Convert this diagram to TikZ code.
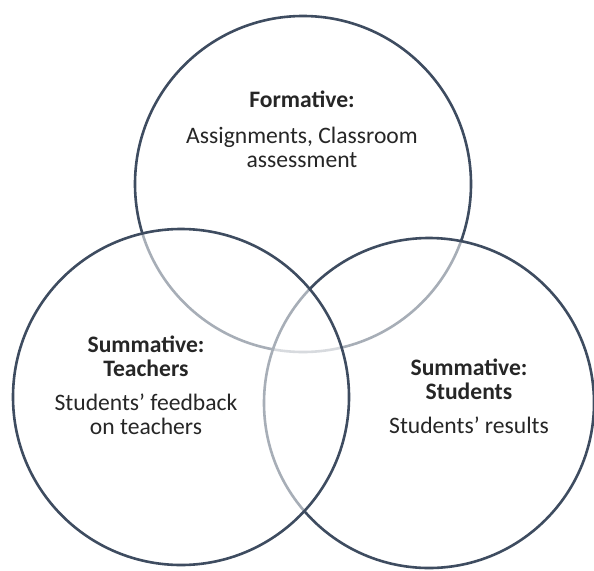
\documentclass[tikz,border=0pt]{standalone}
\usepackage{fontspec}
\setmainfont{Carlito}
\definecolor{kreislinie}{RGB}{62,76,96}
\tikzset{
  kreis/.style={draw=kreislinie, line width=2.6pt, fill=white, fill opacity=0.55, draw opacity=1},
  beschriftung/.style={align=center, inner sep=0pt, anchor=north, text=black!85,
               font=\fontsize{23.6}{24}\selectfont}
}
\begin{document}
\begin{tikzpicture}[x=1pt, y=-1pt]
        \useasboundingbox (0, 0) rectangle (594, 570);
        % Kreise
        \draw [kreis] (303, 184) circle (168);
        \draw [kreis] (429, 403) circle (165);
        \draw [kreis] (181, 397) circle (168);
        % Texte
        \node [beschriftung] (formativ) at (302, 91)
            {\textbf{Formative:}\\[12pt]Assignments, Classroom\\assessment};
        \node [beschriftung] (lehrer) at (146, 336)
            {\textbf{Summative:}\\\textbf{Teachers}\\[10pt]Students’ feedback\\on teachers};
        \node [beschriftung] (studenten) at (469, 359)
            {\textbf{Summative:}\\\textbf{Students}\\[10pt]Students’ results};
\end{tikzpicture}
\end{document}
